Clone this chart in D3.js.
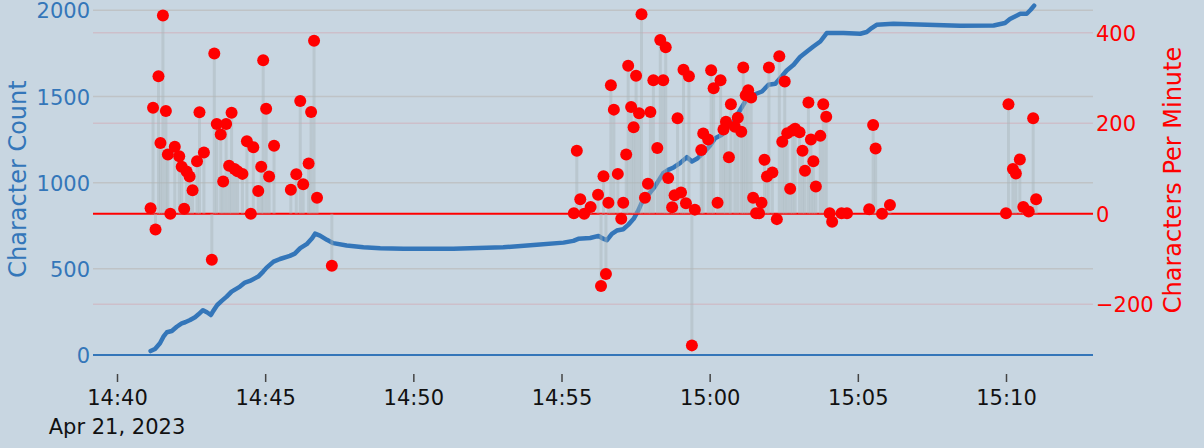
<!DOCTYPE html>
<html>
<head>
<meta charset="utf-8">
<script src="https://cdn.jsdelivr.net/npm/d3@7"></script>
<style>
  html, body { margin: 0; padding: 0; background: #c8d6e1; }
  svg { display: block; }
  text { font-family: "DejaVu Sans", Verdana, sans-serif; }
</style>
</head>
<body>
<svg id="chart" width="1204" height="448"></svg>
<script>
// ---- data ----
const chartDate = "2023-04-21";

const countTimes = ["14:41:08","14:41:17","14:41:27","14:41:34","14:41:41","14:41:51","14:42:01","14:42:11","14:42:18","14:42:28","14:42:38","14:42:45","14:42:54","14:43:02","14:43:10","14:43:15","14:43:23","14:43:32","14:43:42","14:43:52","14:44:09","14:44:19","14:44:29","14:44:46","14:44:56","14:45:03","14:45:17","14:45:30","14:45:50","14:46:00","14:46:11","14:46:24","14:46:35","14:46:41","14:46:51","14:47:05","14:47:18","14:47:45","14:48:19","14:48:53","14:49:40","14:51:21","14:53:02","14:54:10","14:55:04","14:55:24","14:55:34","14:55:58","14:56:15","14:56:22","14:56:32","14:56:42","14:56:52","14:57:05","14:57:15","14:57:26","14:57:36","14:57:42","14:57:53","14:58:09","14:58:26","14:58:36","14:58:47","14:59:00","14:59:14","14:59:24","14:59:34","14:59:47","15:00:01","15:00:11","15:00:25","15:00:38","15:00:48","15:01:02","15:01:15","15:01:29","15:01:46","15:01:59","15:02:13","15:02:23","15:02:36","15:02:50","15:03:03","15:03:17","15:03:30","15:03:44","15:03:57","15:04:31","15:05:05","15:05:18","15:05:28","15:05:38","15:06:12","15:07:20","15:08:27","15:09:35","15:09:58","15:10:08","15:10:29","15:10:42","15:10:50","15:10:57"];
const countValues = [23,35,68,106,132,139,164,184,190,203,219,236,260,248,232,256,290,314,339,368,397,420,430,455,484,507,542,557,575,588,620,643,678,704,693,668,649,635,625,620,617,617,625,639,652,662,674,679,691,678,666,703,722,730,755,790,842,881,919,977,1055,1074,1088,1113,1148,1123,1138,1171,1215,1258,1278,1326,1355,1423,1485,1510,1529,1568,1574,1607,1651,1684,1729,1761,1790,1819,1868,1868,1864,1874,1897,1916,1922,1916,1911,1912,1926,1949,1980,1980,2003,2027];

const cpmTimes = ["14:41:08","14:41:13","14:41:18","14:41:24","14:41:28","14:41:33","14:41:39","14:41:43","14:41:48","14:41:57","14:42:06","14:42:11","14:42:16","14:42:21","14:42:27","14:42:33","14:42:42","14:42:47","14:42:56","14:43:12","14:43:17","14:43:22","14:43:30","14:43:35","14:43:41","14:43:47","14:43:52","14:43:58","14:44:04","14:44:14","14:44:23","14:44:31","14:44:36","14:44:46","14:44:52","14:44:56","14:45:02","14:45:08","14:45:18","14:45:52","14:46:03","14:46:11","14:46:17","14:46:28","14:46:33","14:46:39","14:46:45","14:47:15",
"14:55:25","14:55:31","14:55:38","14:55:46","14:55:59","14:56:14","14:56:20","14:56:25","14:56:30","14:56:35","14:56:40","14:56:46","14:56:54","14:57:01","14:57:05","14:57:11","14:57:15","14:57:21","14:57:26","14:57:31","14:57:37","14:57:42","14:57:49","14:57:55","14:58:00","14:58:06","14:58:14","14:58:20","14:58:26","14:58:31","14:58:36","14:58:44","14:58:49","14:58:55","14:59:02","14:59:07","14:59:12","14:59:18","14:59:24","14:59:30","14:59:43","14:59:47","14:59:57","15:00:03","15:00:08","15:00:16","15:00:22","15:00:28","15:00:33","15:00:39","15:00:43","15:00:51","15:00:57","15:01:04","15:01:08","15:01:13","15:01:18","15:01:24","15:01:28","15:01:34","15:01:40","15:01:45","15:01:51","15:01:56","15:02:00","15:02:07","15:02:16","15:02:21","15:02:27","15:02:32","15:02:37","15:02:43","15:02:48","15:02:53","15:03:02","15:03:08","15:03:13","15:03:20","15:03:25","15:03:30","15:03:35","15:03:44","15:03:50","15:03:56","15:04:03","15:04:08","15:04:27","15:04:38",
"15:05:23","15:05:31","15:05:36","15:05:49","15:06:05","15:10:00","15:10:05","15:10:14","15:10:20","15:10:28","15:10:35","15:10:46","15:10:55","15:11:01"];
const cpmValues = [12,234,-35,304,156,438,227,131,0,148,127,104,11,93,82,52,116,224,135,-102,354,198,175,71,198,106,223,99,94,88,160,0,147,50,104,339,232,82,150,53,87,249,65,111,225,382,35,-115,
1,139,32,0,15,42,-160,83,-133,24,284,230,88,-11,24,131,327,236,191,305,222,441,35,66,225,295,145,384,295,368,79,14,41,211,47,318,23,304,-291,9,141,177,164,317,277,24,295,186,203,125,242,192,212,181,323,262,273,257,35,1,1,24,119,82,323,91,-12,348,159,292,178,55,184,188,180,139,95,246,164,116,60,172,242,214,1,-18,1,1,
10,196,144,0,19,1,242,99,89,120,15,5,211,32];

const xTickTimes = ["14:40:00","14:45:00","14:50:00","14:55:00","15:00:00","15:05:00","15:10:00"];
const leftTicks = [0, 500, 1000, 1500, 2000];
const rightTicks = [-200, 0, 200, 400];
const rightTickLabels = ["\u2212200", "0", "200", "400"];
const dateLabel = "Apr 21, 2023";
const leftTitle = "Character Count";
const rightTitle = "Characters Per Minute";

// ---- setup ----
const parse = d3.timeParse("%Y-%m-%d %H:%M:%S");
const T = s => parse(chartDate + " " + s);

const countData = countTimes.map((t, i) => ({ t: T(t), v: countValues[i] }));
const cpmData = cpmTimes.map((t, i) => ({ t: T(t), v: cpmValues[i] }));

const plotLeft = 93, plotRight = 1093;
const BLUE = "#3476b9", RED = "#ff0000";

const x = d3.scaleTime().domain([T("14:40:00"), T("15:10:00")]).range([117, 1006]);
const yL = d3.scaleLinear().domain([0, 2000]).range([355, 10.3]);
const yR = d3.scaleLinear().domain([0, 400]).range([213.7, 32.7]);

const svg = d3.select("#chart");
svg.append("rect").attr("width", 1204).attr("height", 448).attr("fill", "#c8d6e1");

// gridlines
svg.append("g").selectAll("line").data(leftTicks.filter(d => d !== 0)).join("line")
  .attr("x1", plotLeft).attr("x2", plotRight)
  .attr("y1", d => yL(d)).attr("y2", d => yL(d))
  .attr("stroke", "#bfc3c6").attr("stroke-width", 1.5);
svg.append("g").selectAll("line").data(rightTicks.filter(d => d !== 0)).join("line")
  .attr("x1", plotLeft).attr("x2", plotRight)
  .attr("y1", d => yR(d)).attr("y2", d => yR(d))
  .attr("stroke", "#cdbfca").attr("stroke-width", 1.5);

// zero lines
svg.append("line").attr("x1", plotLeft).attr("x2", plotRight)
  .attr("y1", yL(0)).attr("y2", yL(0)).attr("stroke", BLUE).attr("stroke-width", 2);

// character count line
const line = d3.line().x(d => x(d.t)).y(d => yL(d.v));
svg.append("path").datum(countData).attr("d", line)
  .attr("fill", "none").attr("stroke", BLUE).attr("stroke-width", 4.5)
  .attr("stroke-linejoin", "round").attr("stroke-linecap", "round");

svg.append("line").attr("x1", plotLeft).attr("x2", plotRight)
  .attr("y1", yR(0)).attr("y2", yR(0)).attr("stroke", RED).attr("stroke-width", 2);

// stems
svg.append("g").selectAll("line").data(cpmData).join("line")
  .attr("x1", d => x(d.t)).attr("x2", d => x(d.t))
  .attr("y1", yR(0)).attr("y2", d => yR(d.v))
  .attr("stroke", "#a9b6bb").attr("stroke-opacity", 0.45).attr("stroke-width", 3);

// markers
svg.append("g").selectAll("circle").data(cpmData).join("circle")
  .attr("cx", d => x(d.t)).attr("cy", d => yR(d.v)).attr("r", 6)
  .attr("fill", RED);

// left axis
const gL = svg.append("g").attr("transform", `translate(${plotLeft - 3},0)`)
  .call(d3.axisLeft(yL).tickValues(leftTicks).tickSize(0).tickPadding(0).tickFormat(d3.format("d")));
gL.select(".domain").remove();
gL.selectAll("text").attr("fill", BLUE).style("font-size", "21px")
  .style("font-family", '"DejaVu Sans", Verdana, sans-serif').attr("dy", "0.36em");

// right axis
const gR = svg.append("g").attr("transform", `translate(${plotRight + 3},0)`)
  .call(d3.axisRight(yR).tickValues(rightTicks).tickSize(0).tickPadding(0)
    .tickFormat((d, i) => rightTickLabels[i]));
gR.select(".domain").remove();
gR.selectAll("text").attr("fill", RED).style("font-size", "21px")
  .style("font-family", '"DejaVu Sans", Verdana, sans-serif').attr("dy", "0.36em");

// x axis
const gX = svg.append("g").attr("transform", "translate(0,374)")
  .call(d3.axisBottom(x).tickValues(xTickTimes.map(T)).tickSize(8).tickPadding(8)
    .tickFormat(d3.timeFormat("%H:%M")));
gX.select(".domain").remove();
gX.selectAll(".tick line").attr("stroke", "#444").attr("stroke-width", 1.5);
gX.selectAll("text").attr("fill", "#111").style("font-size", "21px")
  .style("font-family", '"DejaVu Sans", Verdana, sans-serif');

svg.append("text").attr("x", x(T("14:40:00"))).attr("y", 434)
  .attr("text-anchor", "middle").attr("fill", "#111").style("font-size", "21px")
  .text(dateLabel);

// titles
svg.append("text").attr("transform", "translate(26,179) rotate(-90)")
  .attr("text-anchor", "middle").attr("fill", BLUE).style("font-size", "24px")
  .text(leftTitle);
svg.append("text").attr("transform", "translate(1181,180) rotate(-90)")
  .attr("text-anchor", "middle").attr("fill", RED).style("font-size", "24px")
  .text(rightTitle);
</script>
</body>
</html>
